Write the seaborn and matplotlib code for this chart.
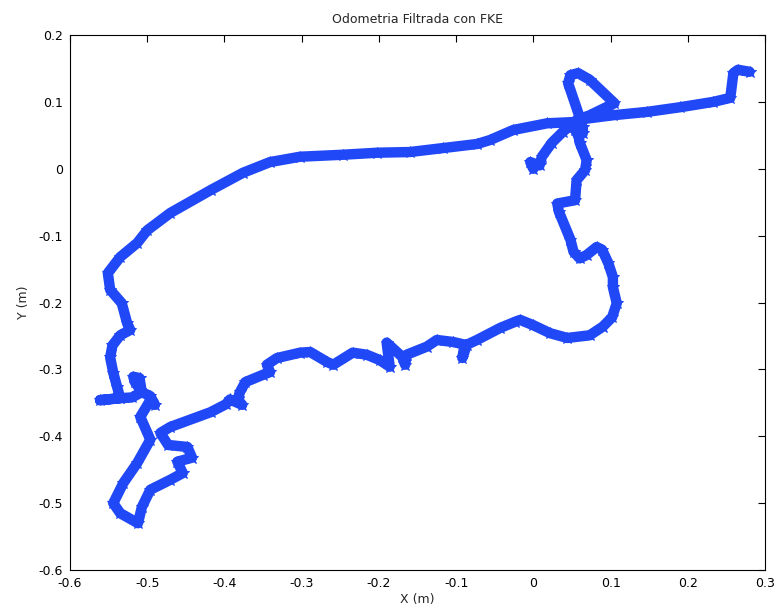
import matplotlib
matplotlib.use("Agg")
import matplotlib.pyplot as plt
import seaborn as sns
import numpy as np
import pandas as pd

# Trajectory (filtered odometry), in metres
x_m = [0.000, -0.004, 0.008, 0.011, 0.024, 0.038, 0.048, 0.054, 0.058, 0.064, 0.064, 0.056,
       0.060, 0.069, 0.067, 0.056, 0.054, 0.031, 0.033, 0.048, 0.052, 0.060, 0.069, 0.082,
       0.089, 0.097, 0.103, 0.103, 0.108, 0.102, 0.090, 0.073, 0.044, 0.022, 0.000, -0.017,
       -0.024, -0.043, -0.073, -0.086, -0.092, -0.089, -0.104, -0.125, -0.138, -0.164, -0.166,
       -0.170, -0.190, -0.186, -0.199, -0.216, -0.234, -0.259, -0.267, -0.289, -0.302, -0.332,
       -0.345, -0.341, -0.350, -0.373, -0.380, -0.383, -0.377, -0.393, -0.398, -0.418, -0.470,
       -0.483, -0.473, -0.448, -0.442, -0.461, -0.454, -0.470, -0.496, -0.507, -0.512, -0.535,
       -0.544, -0.531, -0.513, -0.496, -0.509, -0.496, -0.490, -0.496, -0.507, -0.516, -0.518,
       -0.510, -0.507, -0.520, -0.535, -0.561, -0.535, -0.539, -0.544, -0.548, -0.545, -0.535,
       -0.522, -0.526, -0.533, -0.548, -0.551, -0.535, -0.513, -0.500, -0.470, -0.418, -0.376,
       -0.341, -0.302, -0.246, -0.202, -0.160, -0.117, -0.073, -0.056, -0.026, 0.018, 0.056,
       0.060, 0.045, 0.048, 0.058, 0.073, 0.105, 0.073, 0.056, 0.103, 0.147, 0.190, 0.233,
       0.255, 0.259, 0.265, 0.280]
y_m = [0.000, 0.010, 0.005, 0.018, 0.039, 0.055, 0.065, 0.058, 0.050, 0.053, 0.062, 0.065,
       0.039, 0.013, -0.002, -0.017, -0.047, -0.052, -0.064, -0.106, -0.124, -0.134, -0.129, -0.117,
       -0.121, -0.141, -0.162, -0.177, -0.201, -0.222, -0.236, -0.249, -0.253, -0.246, -0.234, -0.226,
       -0.229, -0.238, -0.256, -0.263, -0.283, -0.263, -0.259, -0.256, -0.266, -0.278, -0.293,
       -0.281, -0.260, -0.296, -0.286, -0.278, -0.275, -0.293, -0.289, -0.274, -0.275, -0.283,
       -0.293, -0.304, -0.308, -0.319, -0.334, -0.345, -0.353, -0.345, -0.352, -0.364, -0.386,
       -0.395, -0.413, -0.416, -0.432, -0.438, -0.455, -0.465, -0.480, -0.506, -0.530, -0.515,
       -0.500, -0.470, -0.440, -0.405, -0.371, -0.346, -0.353, -0.340, -0.334, -0.319, -0.311,
       -0.313, -0.334, -0.342, -0.343, -0.346, -0.343, -0.326, -0.305, -0.282, -0.264, -0.249,
       -0.241, -0.231, -0.201, -0.181, -0.156, -0.132, -0.111, -0.092, -0.066, -0.032, -0.006,
       0.010, 0.018, 0.021, 0.024, 0.025, 0.031, 0.037, 0.043, 0.058, 0.068, 0.070,
       0.077, 0.128, 0.140, 0.143, 0.133, 0.098, 0.080, 0.073, 0.080, 0.085, 0.092, 0.100,
       0.106, 0.143, 0.148, 0.145]

x_ticks = [-0.6, -0.5, -0.4, -0.3, -0.2, -0.1, 0, 0.1, 0.2, 0.3]
y_ticks = [-0.6, -0.5, -0.4, -0.3, -0.2, -0.1, 0, 0.1, 0.2]

sns.set_style("white")
plt.rcParams["font.family"] = ["DejaVu Sans"]
plt.rcParams["axes.unicode_minus"] = False

fig = plt.figure(figsize=(7.77, 6.13), dpi=100)
ax = fig.add_axes([0.0901, 0.0701, 0.8945, 0.8728])

df = pd.DataFrame({"x": x_m, "y": y_m})
color = "#2048f6"
sns.lineplot(data=df, x="x", y="y", sort=False, estimator=None, ax=ax,
             color=color, linewidth=7.5, marker="*", markersize=9,
             markeredgecolor=color, markerfacecolor=color)
for ln in ax.lines:
    ln.set_solid_capstyle("round")
    ln.set_solid_joinstyle("round")

ax.set_xlim(-0.6, 0.3)
ax.set_ylim(-0.6, 0.2)
ax.set_xticks(x_ticks)
ax.set_yticks(y_ticks)
ax.set_xticklabels(["0" if v == 0 else f"{v:g}" for v in x_ticks])
ax.set_yticklabels(["0" if v == 0 else f"{v:g}" for v in y_ticks])
ax.tick_params(direction="in", length=5, width=0.8, top=True, right=True,
               labelsize=9, colors="black", pad=5)
for s in ax.spines.values():
    s.set_visible(True)
    s.set_color("black")
    s.set_linewidth(0.8)

ax.set_title("Odometria Filtrada con FKE", fontsize=9, pad=9)
ax.set_xlabel("X (m)", fontsize=9, labelpad=2)
ax.set_ylabel("Y (m)", fontsize=9, labelpad=6)

fig.savefig("out.png", dpi=100)
